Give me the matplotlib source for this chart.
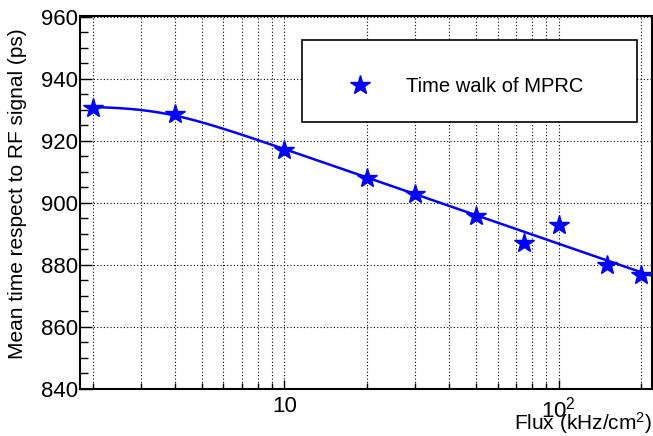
import numpy as np
import matplotlib
matplotlib.use("Agg")
import matplotlib.pyplot as plt
from matplotlib.patches import Rectangle
from matplotlib.ticker import LogLocator, MultipleLocator, NullFormatter

plt.rcParams['font.family'] = ['Liberation Sans', 'DejaVu Sans']

# data
flux = [2, 4, 10, 20, 30, 50, 75, 100, 150, 200]
time_ps = [930.6, 928.6, 916.9, 907.8, 902.8, 895.8, 887.0, 892.6, 880.0, 876.7]

W, H = 653, 436
fig = plt.figure(figsize=(W/100, H/100), dpi=100)
ax = fig.add_axes([80/W, 1 - 388.5/H, (652 - 80)/W, (388.5 - 16.5)/H])

# fit: plateau then linear in log10(flux) with a smooth knee (grid search on the knee)
L = np.log10(flux)
y = np.array(time_ps)
best = None
for L0 in np.linspace(0.3, 1.0, 71):
    for w in np.linspace(0.1, 0.3, 21):
        f = w * np.logaddexp(0, (L - L0) / w)
        A = np.vstack([np.ones_like(L), f]).T
        c = np.linalg.lstsq(A, y, rcond=None)[0]
        r = np.sum((A @ c - y) ** 2)
        if best is None or r < best[0]:
            best = (r, L0, w, c)
_, L0, w, c = best
xs = np.logspace(np.log10(2), np.log10(215), 300)
Ls = np.log10(xs)
ax.plot(xs, c[0] + c[1] * w * np.logaddexp(0, (Ls - L0) / w), color='blue', lw=1.8, zorder=3)
ax.plot(flux, time_ps, ls='none', marker='*', ms=15, color='blue', zorder=4)

ax.set_xscale('log')
ax.set_xlim(1.8, 219)
ax.set_ylim(840, 960)

ax.xaxis.set_minor_locator(LogLocator(base=10, subs=np.arange(2, 10), numticks=20))
ax.xaxis.set_minor_formatter(NullFormatter())
ax.set_xticks([10, 100])
ax.set_xticklabels(['10', '$\\mathregular{10^2}$'])
ax.yaxis.set_major_locator(MultipleLocator(20))
ax.yaxis.set_minor_locator(MultipleLocator(5))

ax.tick_params(axis='both', which='both', direction='in', labelsize=16, top=False, right=False)
ax.tick_params(axis='y', which='major', length=8.6, width=1, pad=1.5)
ax.tick_params(axis='y', which='minor', length=5.8, width=1)
ax.tick_params(axis='x', which='major', length=6.5, width=1, pad=5.5)
ax.tick_params(axis='x', which='minor', length=4.3, width=1)

ax.grid(True, which='major', axis='y', ls=(0, (1, 2)), color='black', lw=0.8)
ax.grid(True, which='both', axis='x', ls=(0, (1, 2)), color='black', lw=0.8)

for s in ax.spines.values():
    s.set_linewidth(1.5)

ax.set_ylabel('Mean time respect to RF signal (ps)', fontsize=15, loc='top')
ax.yaxis.set_label_coords((27 - 80)/572, 1 - (28 - 16.5)/372)
fig.text(652/W, 1 - 430/H, 'Flux (kHz/cm$\\mathregular{^2}$)', fontsize=15, ha='right', va='baseline')

# legend box
ax.add_patch(Rectangle((302/W, 1 - 122/H), 335/W, 82/H, transform=fig.transFigure, clip_on=False,
                       facecolor='white', edgecolor='black', lw=1.2, zorder=5))
leg = ax.legend([plt.Line2D([], [], ls='none', marker='*', ms=15, color='blue')],
                ['Time walk of MPRC'], loc='center left',
                bbox_to_anchor=(340/W, 1 - 87/H), bbox_transform=fig.transFigure,
                fontsize=14.5, frameon=False, borderaxespad=0, borderpad=0,
                handlelength=2.0, handletextpad=1.3)
leg.set_zorder(6)

fig.savefig('out.png', dpi=100)
